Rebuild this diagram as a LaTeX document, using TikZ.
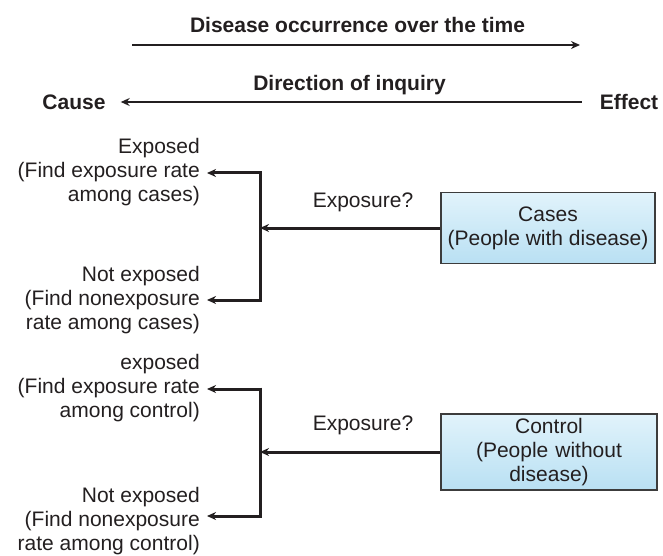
\documentclass[tikz,border=0pt]{standalone}
\usepackage{fontspec}
\setmainfont{Liberation Sans}
\usetikzlibrary{arrows.meta,calc}
\definecolor{txt}{RGB}{35,31,32}
\definecolor{boxtop}{RGB}{225,243,251}
\definecolor{boxbot}{RGB}{185,224,243}
\definecolor{boxline}{RGB}{60,60,60}
\tikzset{
  lbl/.style={inner sep=0pt, text=txt, font=\fontsize{21}{24}\selectfont},
  blbl/.style={inner sep=0pt, text=txt, font=\fontsize{21}{24}\selectfont\bfseries},
  side/.style={lbl, align=right, anchor=east, inner xsep=7pt},
  group/.style={draw=boxline, line width=1.6pt, top color=boxtop, bottom color=boxbot,
    align=center, text=txt, font=\fontsize{21}{24}\selectfont, inner sep=0pt},
  conn/.style={draw=txt, line width=3pt, -{Stealth[length=9pt,width=8pt]}},
  line/.style={draw=txt, line width=3pt},
  toparrow/.style={draw=txt, line width=2.6pt, -{Stealth[length=9pt,width=8pt]}}
}
\begin{document}
\begin{tikzpicture}[x=1pt,y=1pt]
\useasboundingbox (0,0) rectangle (663,555);
% top
\node[blbl] (title) at (357.5,530) {Disease occurrence over the time};
\coordinate (t1) at (132,510);
\coordinate (t2) at (580,510);
\draw[toparrow] (t1) -- (t2);
\node[blbl] (dir) at (349.5,470) {Direction of inquiry};
\node[blbl] (cause) at (74,453) {Cause};
\node[blbl] (effect) at (629,453) {Effect};
\draw[toparrow] ([xshift=-18pt]effect.west) -- ([xshift=15pt]cause.east);
% group 1
\node[side] (e1) at (207,383) {Exposed\\(Find exposure rate\\among cases)};
\node[side] (n1) at (207,255) {Not exposed\\(Find nonexposure\\rate among cases)};
\node[group, minimum width=214pt, minimum height=71pt] (cases) at (548,327) {Cases\\(People with disease)};
\coordinate (b1t) at (260,382);
\coordinate (b1b) at (260,255);
\draw[line] ([yshift=1.5pt]b1t) -- ([yshift=-1.5pt]b1b);
\draw[conn] (b1t) -- (e1.east |- b1t);
\draw[conn] (b1b) -- (n1.east |- b1b);
\draw[conn] (cases.west) -- (cases.west -| b1t);
\node[lbl] (x1) at (363,353) {Exposure?};
% group 2
\node[side] (e2) at (207,167) {exposed\\(Find exposure rate\\among control)};
\node[side] (n2) at (207,34) {Not exposed\\(Find nonexposure\\rate among control)};
\node[group, minimum width=216pt, minimum height=76pt, text width=200pt] (control) at (549,103) {Control\\(People without\\disease)};
\coordinate (b2t) at (260,166);
\coordinate (b2b) at (260,39);
\draw[line] ([yshift=1.5pt]b2t) -- ([yshift=-1.5pt]b2b);
\draw[conn] (b2t) -- (e2.east |- b2t);
\draw[conn] (b2b) -- (n2.east |- b2b);
\draw[conn] (control.west) -- (control.west -| b2t);
\node[lbl] (x2) at (363,130) {Exposure?};
\end{tikzpicture}
\end{document}
